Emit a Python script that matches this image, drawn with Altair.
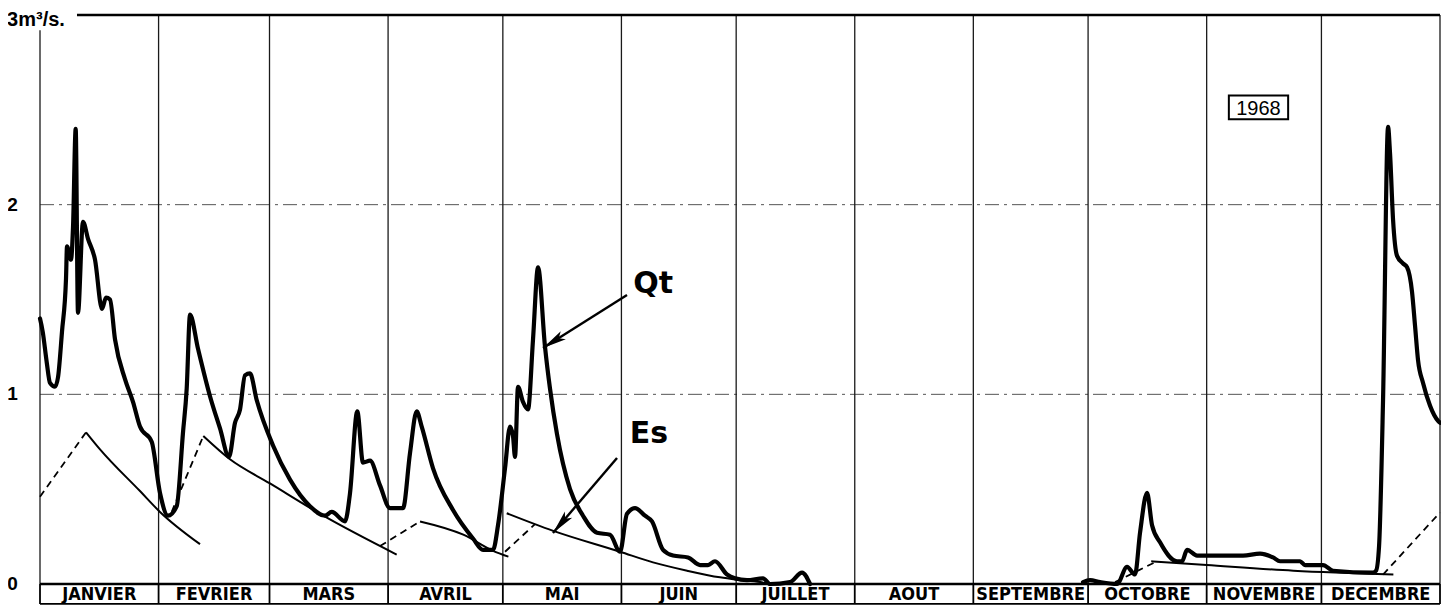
import altair as alt
import pandas as pd

# ---------------- data ----------------
month_names = ["JANVIER", "FEVRIER", "MARS", "AVRIL", "MAI", "JUIN", "JUILLET",
               "AOUT", "SEPTEMBRE", "OCTOBRE", "NOVEMBRE", "DECEMBRE"]
month_bounds = [0, 31, 60, 91, 121, 152, 182, 213, 244, 274, 305, 335, 366]

# Qt : débit total (jour de l'année 1968, m3/s)
qt1_day = [0.0, 0.71, 1.75, 2.61, 3.92, 4.71, 5.75, 6.80, 7.06, 8.10, 8.63, 9.33, 9.93,
           11.24, 12.55, 14.38, 16.21, 17.25, 18.30, 19.61, 22.22, 24.31, 26.14, 29.20,
           31.37, 33.46, 35.74, 37.39, 38.35, 39.22, 41.31, 44.44, 47.06, 49.41, 50.98,
           52.29, 53.59, 54.90, 56.65, 60.92, 65.36, 70.59, 74.51, 76.26, 79.74, 81.05,
           82.95, 84.44, 86.27, 88.89, 91.50, 94.90, 96.73, 98.48, 99.79, 102.75, 107.97,
           113.20, 115.82, 118.43, 119.74, 121.57, 122.88, 123.66, 124.18, 124.97, 126.27,
           127.58, 128.89, 130.20, 132.03, 133.33, 135.16, 138.56, 141.96, 145.62, 149.02,
           151.63, 153.46, 155.56, 158.17, 160.0, 162.88, 165.49, 169.41, 172.55, 174.64,
           176.47, 179.61, 181.70, 184.84, 189.02, 190.85, 196.08, 199.22, 201.31]
qt1_val = [1.40, 1.33, 1.17, 1.06, 1.04, 1.09, 1.33, 1.61, 1.78, 1.71, 1.88, 2.40, 1.43,
           1.91, 1.82, 1.71, 1.45, 1.51, 1.50, 1.29, 1.08, 0.96, 0.83, 0.75,
           0.48, 0.36, 0.41, 0.80, 1.03, 1.42, 1.24, 0.99, 0.82, 0.67, 0.85,
           0.92, 1.10, 1.11, 0.97, 0.73, 0.55, 0.41, 0.36, 0.38, 0.33, 0.48,
           0.91, 0.64, 0.65, 0.52, 0.40, 0.40, 0.69, 0.91, 0.83, 0.61, 0.39,
           0.24, 0.18, 0.18, 0.31, 0.61, 0.83, 0.78, 0.67, 1.04, 0.96,
           0.92, 1.29, 1.67, 1.25, 1.03, 0.79, 0.50, 0.36, 0.27, 0.26,
           0.17, 0.37, 0.40, 0.36, 0.33, 0.18, 0.15, 0.14, 0.10, 0.10,
           0.12, 0.05, 0.03, 0.02, 0.03, 0.0, 0.01, 0.06, 0.0]
qt2_day = [272.68, 274.51, 277.12, 281.57, 284.18, 286.27, 287.58, 289.41, 290.72, 292.81,
           297.25, 298.56, 299.87, 302.48, 308.50, 314.51, 318.95, 322.35, 324.18, 329.41,
           330.72, 335.42, 338.04, 348.50, 349.28, 350.07, 351.11, 352.42, 352.94, 353.73,
           354.77, 356.34, 357.39, 358.69, 359.48, 360.26, 361.57, 363.40, 365.49, 366.0]
qt2_val = [0.01, 0.02, 0.01, 0.0, 0.09, 0.05, 0.27, 0.48, 0.31, 0.22,
           0.12, 0.12, 0.18, 0.15, 0.15, 0.15, 0.16, 0.14, 0.12, 0.12,
           0.10, 0.10, 0.07, 0.06, 0.07, 0.20, 0.97, 2.41, 2.27, 1.92,
           1.73, 1.69, 1.67, 1.54, 1.36, 1.18, 1.06, 0.94, 0.86, 0.85]

# Es : écoulement souterrain (courbes de tarissement et raccordements)
es_seg = (["A"] * 2 + ["B"] * 5 + ["C"] * 2 + ["D"] * 5 + ["E"] * 2 + ["F"] * 4 +
          ["G"] * 2 + ["H"] * 9 + ["I"] * 2 + ["J"] * 4 + ["K"] * 2)
es_style = (["dash"] * 2 + ["solid"] * 5 + ["dash"] * 2 + ["solid"] * 5 + ["dash"] * 2 +
            ["solid"] * 4 + ["dash"] * 2 + ["solid"] * 9 + ["dash"] * 2 + ["solid"] * 4 +
            ["dash"] * 2)
es_day = [0.0, 12.03,
          12.03, 15.69, 26.14, 31.37, 41.83,
          34.43, 42.69,
          42.69, 49.49, 60.13, 74.07, 93.25,
          88.89, 99.35,
          99.35, 110.67, 118.43, 122.44,
          121.57, 129.41,
          122.01, 134.18, 151.63, 160.26, 169.19, 177.78, 182.14, 188.24, 190.85,
          281.05, 292.0,
          290.50, 305.02, 327.67, 353.81,
          351.11, 366.0]
es_val = [0.46, 0.80,
          0.80, 0.71, 0.49, 0.38, 0.21,
          0.38, 0.78,
          0.78, 0.66, 0.53, 0.36, 0.155,
          0.20, 0.33,
          0.33, 0.26, 0.175, 0.144,
          0.17, 0.316,
          0.373, 0.28, 0.17, 0.114, 0.07, 0.035, 0.023, 0.01, 0.0,
          0.01, 0.12,
          0.12, 0.10, 0.07, 0.05,
          0.05, 0.377]

y_tick_vals = [0, 1, 2]
y_tick_text = ["0", "1", "2"]
unit_label = "3m³/s."
year_label = "1968"
annot_text = ["Qt", "Es"]
annot_day = [160.3, 159.2]
annot_val = [1.58, 0.79]
arrow_tail_day = [153.46, 150.85]
arrow_tail_val = [1.524, 0.664]
arrow_tip_day = [131.5, 134.1]
arrow_tip_val = [1.244, 0.269]
arrow_angle = [237.75, 220.5]

# ---------------- helpers ----------------
FONT = "Liberation Sans"
ROUND = "DejaVu Sans"
NARROW = "Liberation Sans Narrow, DejaVu Sans Condensed, Liberation Sans"
xs = alt.Scale(domain=[0, 366], nice=False, zero=False)
ys = alt.Scale(domain=[0, 3], nice=False, zero=False)


def X(f):
    return alt.X(f, type="quantitative", scale=xs, axis=None)


def Y(f):
    return alt.Y(f, type="quantitative", scale=ys, axis=None)


ROW = -0.105  # bottom of the month label row

qt_df = pd.DataFrame({
    "day": qt1_day + qt2_day,
    "val": qt1_val + qt2_val,
    "seg": ["s1"] * len(qt1_day) + ["s2"] * len(qt2_day),
})
es_df = pd.DataFrame({"day": es_day, "val": es_val, "seg": es_seg, "style": es_style})

vgrid_df = pd.DataFrame({"day": month_bounds,
                         "top": [2.92] + [3.0] * (len(month_bounds) - 1),
                         "bottom": [0.0] * len(month_bounds)})
hgrid_df = pd.DataFrame({"val": [1, 2], "start": [0, 0], "end": [366, 366]})
frame_df = pd.DataFrame({"val": [3.0, 0.0, ROW], "start": [9.67, 0, 0], "end": [366, 366, 366],
                         "w": [2.4, 2.6, 1.8]})
div_df = pd.DataFrame({"day": month_bounds, "top": [0.0] * len(month_bounds),
                       "bottom": [ROW] * len(month_bounds)})
mlab_df = pd.DataFrame({"name": month_names,
                        "day": [(month_bounds[i] + month_bounds[i + 1]) / 2 for i in range(12)],
                        "val": [ROW / 2] * 12})
ytick_df = pd.DataFrame({"t": y_tick_text, "val": y_tick_vals, "day": [-5.8] * 3})
unit_df = pd.DataFrame({"t": [unit_label], "day": [-8.6], "val": [2.94]})
annot_df = pd.DataFrame({"t": annot_text, "day": annot_day, "val": annot_val})
arrow_df = pd.DataFrame({"d0": arrow_tail_day, "v0": arrow_tail_val,
                         "d1": arrow_tip_day, "v1": arrow_tip_val, "ang": arrow_angle})
year_df = pd.DataFrame({"t": [year_label], "x0": [310.8], "x1": [326.3],
                        "y0": [2.45], "y1": [2.575], "xm": [318.55], "ym": [2.512]})

# ---------------- layers ----------------
hgrid = alt.Chart(hgrid_df).mark_rule(strokeDash=[14, 5, 3, 5], strokeWidth=1, color="#555").encode(
    x=X("start"), x2=alt.X2("end"), y=Y("val"))
vgrid = alt.Chart(vgrid_df).mark_rule(strokeWidth=1.3, color="#1a1a1a").encode(
    x=X("day"), y=Y("bottom"), y2=alt.Y2("top"))
frame = alt.Chart(frame_df).mark_rule(color="black").encode(
    x=X("start"), x2=alt.X2("end"), y=Y("val"),
    strokeWidth=alt.StrokeWidth("w:Q", scale=None))
dividers = alt.Chart(div_df).mark_rule(strokeWidth=1.8, color="black").encode(
    x=X("day"), y=Y("bottom"), y2=alt.Y2("top"))
mlabels = alt.Chart(mlab_df).mark_text(font=NARROW, fontSize=18, fontWeight="bold",
                                       baseline="middle", align="center", dy=1, color="black").encode(
    x=X("day"), y=Y("val"), text="name:N")

es_dash = alt.Chart(es_df).transform_filter(alt.datum.style == "dash").mark_line(
    strokeDash=[7, 5], strokeWidth=1.8, color="black", interpolate="monotone").encode(
    x=X("day"), y=Y("val"), detail="seg:N")
es_solid = alt.Chart(es_df).transform_filter(alt.datum.style == "solid").mark_line(
    strokeWidth=2, color="black", interpolate="monotone").encode(
    x=X("day"), y=Y("val"), detail="seg:N")
qt = alt.Chart(qt_df).mark_line(strokeWidth=4.2, color="black", interpolate="monotone",
                                strokeJoin="round", strokeCap="round").encode(
    x=X("day"), y=Y("val"), detail="seg:N")

arrows = alt.Chart(arrow_df).mark_rule(strokeWidth=2.4, color="black").encode(
    x=X("d0"), y=Y("v0"), x2=alt.X2("d1"), y2=alt.Y2("v1"))
heads = alt.Chart(arrow_df).mark_point(shape="M0,0L-0.4,2L0,1.55L0.4,2Z", size=576, filled=True,
                                       opacity=1, color="black").encode(
    x=X("d1"), y=Y("v1"), angle=alt.Angle("ang:Q", scale=None))
annots = alt.Chart(annot_df).mark_text(font=ROUND, fontSize=30, fontWeight="bold",
                                       baseline="middle", align="center", color="black").encode(
    x=X("day"), y=Y("val"), text="t:N")
yticks = alt.Chart(ytick_df).mark_text(font=FONT, fontSize=19, fontWeight="bold",
                                       baseline="middle", align="right", color="black").encode(
    x=X("day"), y=Y("val"), text="t:N")
unit = alt.Chart(unit_df).mark_text(font=FONT, fontSize=20, fontWeight="bold",
                                    baseline="alphabetic", align="left", color="black").encode(
    x=X("day"), y=Y("val"), text="t:N")
ybox = alt.Chart(year_df).mark_rect(fill="white", stroke="black", strokeWidth=2).encode(
    x=X("x0"), x2=alt.X2("x1"), y=Y("y0"), y2=alt.Y2("y1"))
ytext = alt.Chart(year_df).mark_text(font=FONT, fontSize=20, baseline="middle", align="center",
                                     dy=1, color="black").encode(
    x=X("xm"), y=Y("ym"), text="t:N")

chart = alt.layer(
    hgrid, vgrid, frame, dividers, mlabels, es_dash, es_solid, qt,
    arrows, heads, annots, yticks, unit, ybox, ytext
).properties(
    width=1400, height=569,
    autosize=alt.AutoSizeParams(type="none"),
    padding={"left": 32, "top": 7, "right": 1, "bottom": 21},
    background="white",
).configure_view(stroke=None)

chart.save("out.html", embed_options={"renderer": "svg", "actions": False})
